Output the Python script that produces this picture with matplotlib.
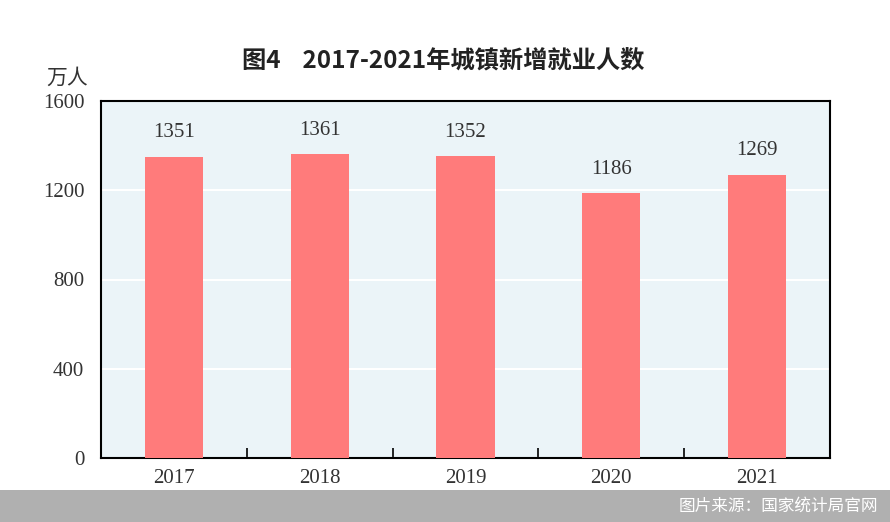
import matplotlib
matplotlib.use("Agg")
import matplotlib.pyplot as plt
from matplotlib.patches import Rectangle

years = ["2017", "2018", "2019", "2020", "2021"]
jobs = [1351, 1361, 1352, 1186, 1269]
yticks = [0, 400, 800, 1200, 1600]

cjk = ["Noto Sans CJK SC", "DejaVu Sans"]
serif = ["Liberation Serif", "DejaVu Serif"]

fig = plt.figure(figsize=(8.9, 5.22), dpi=100)
ax = fig.add_axes([101 / 890, 1 - 458 / 522, 729 / 890, 357 / 522])
ax.set_facecolor("#ebf4f8")

x = list(range(len(years)))
ax.bar(x, jobs, width=0.4, color="#ff7b7b", zorder=3)
for xi, v in zip(x, jobs):
    ax.text(xi, v + 65, str(v), ha="center", va="bottom", fontsize=15,
            family=serif, color="#333333")

ax.set_xlim(-0.5, len(years) - 0.5)
ax.set_ylim(0, 1600)
ax.set_yticks(yticks)
ax.set_yticklabels([str(t) for t in yticks], family=serif, fontsize=15, color="#333333")
ax.yaxis.grid(True, color="white", linewidth=1.5, zorder=1)
ax.tick_params(axis="y", length=0, pad=12)

ax.set_xticks(x)
ax.set_xticklabels(years, family=serif, fontsize=15, color="#333333")
ax.tick_params(axis="x", length=0, pad=8)
ax.set_xticks([i + 0.5 for i in x[:-1]], minor=True)
ax.tick_params(axis="x", which="minor", direction="in", length=7, width=1.2, color="black")

for s in ax.spines.values():
    s.set_linewidth(1.5)
    s.set_color("black")

ax.text(-0.046, 1.035, "万人", transform=ax.transAxes, ha="center", va="bottom",
        fontsize=15, family=cjk, color="#333333")

fig.text(443 / 890, 1 - 62 / 522, "图4    2017-2021年城镇新增就业人数", ha="center", va="center",
         fontsize=17.5, family=cjk, fontweight="semibold", color="#222222")

# footer band
fig.patches.append(Rectangle((0, 0), 1, 32 / 522, transform=fig.transFigure,
                             facecolor="#b0b0b0", edgecolor="none", zorder=0))
fig.text(878 / 890, 16 / 522, "图片来源：国家统计局官网", ha="right", va="center",
         fontsize=12, family=cjk, color="white")

fig.savefig("out.png", dpi=100)
